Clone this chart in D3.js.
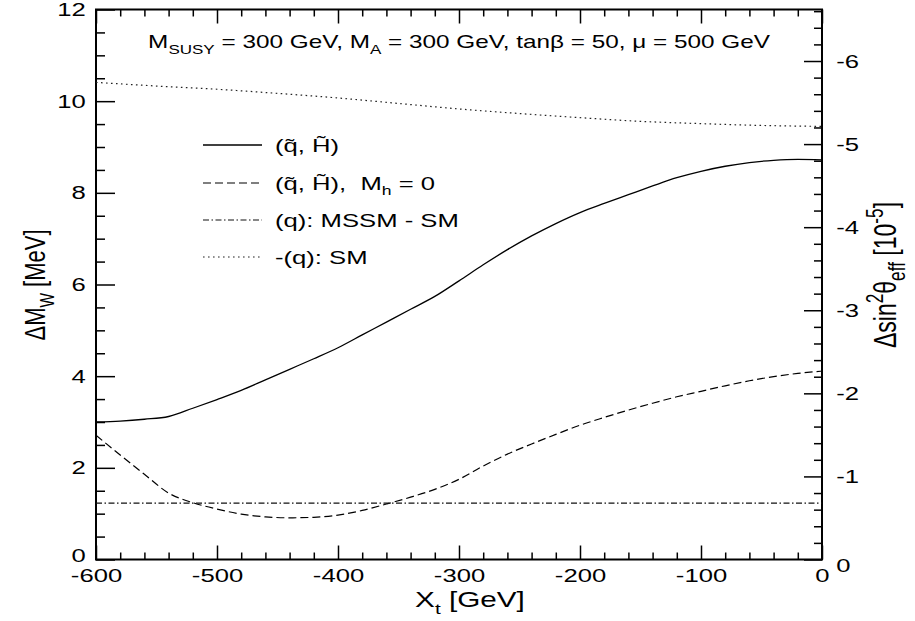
<!DOCTYPE html>
<html><head><meta charset="utf-8">
<script src="https://cdn.jsdelivr.net/npm/d3@7"></script>
<style>
body{margin:0;background:#fff}
svg text{font-family:"Liberation Sans",Arial,Helvetica,sans-serif;fill:#000;white-space:pre}
</style></head><body>
<svg id="c" width="915" height="621"></svg>
<script>
// ---- data ----
const xTicksMajor = [-600,-500,-400,-300,-200,-100,0];
const yTicksLeft  = [0,2,4,6,8,10,12];
const yTicksRight = [0,-1,-2,-3,-4,-5,-6];

const xGrid = [-600,-580,-560,-540,-520,-500,-480,-460,-440,-420,-400,-380,-360,-340,-320,-300,
               -280,-260,-240,-220,-200,-180,-160,-140,-120,-100,-80,-60,-40,-20,0];
const solidVals  = [3.00,3.02,3.06,3.12,3.30,3.49,3.69,3.92,4.15,4.38,4.62,4.90,5.18,5.46,5.74,6.08,
                    6.43,6.76,7.06,7.33,7.57,7.77,7.96,8.15,8.33,8.47,8.58,8.66,8.71,8.73,8.72];
const dashedVals = [2.71,2.28,1.86,1.45,1.24,1.10,0.99,0.93,0.91,0.92,0.97,1.07,1.21,1.36,1.53,1.75,
                    2.04,2.30,2.52,2.73,2.93,3.10,3.26,3.41,3.55,3.67,3.79,3.90,3.99,4.06,4.11];
const xDotted    = [-600,-550,-500,-450,-400,-350,-300,-250,-200,-150,-100,-50,0];
const dottedVals = [10.41,10.33,10.26,10.17,10.07,9.95,9.83,9.73,9.64,9.56,9.51,9.47,9.45];
const xDashDot   = [-600,0];
const dashDotVals= [1.23,1.23];

const legendLabels = ["(q\u0303, H\u0303)", "(q\u0303, H\u0303),  M", "(q): MSSM - SM", "-(q): SM"];

// ---- layout ----
const X0=96, X1=822, Y0=9.5, Y1=559.5, SX=1.35;
const svg = d3.select("#c");
const x  = d3.scaleLinear([-600,0],[X0,X1]);
const y  = d3.scaleLinear([0,12],[Y1,Y0]);
const yR = d3.scaleLinear([0,-6.62],[Y1,Y0]);

const xMinor = d3.range(-600,1,20).filter(v=>v%100!==0);
const yMinor = d3.range(0,12.01,0.5).filter(v=>Math.abs(v%2)>1e-9);
const yRMinor = d3.range(0,-6.61,-0.2).filter(v=>Math.abs(Math.round(v)-v)>1e-6);

function styleAxis(g, fs){
  g.select(".domain").remove();
  g.attr("font-size",fs).attr("font-family",null);
  g.selectAll("line").attr("stroke","#000").attr("stroke-width",1.5);
}
// bottom
svg.append("g").attr("transform",`translate(0,${Y1})`)
  .call(d3.axisBottom(x).tickValues(xTicksMajor).tickSize(-14).tickSizeOuter(0).tickPadding(9.5).tickFormat(d=>String(d)))
  .call(g=>{styleAxis(g,19); g.selectAll("text").attr("transform",`scale(${SX},1)`);});
svg.append("g").attr("transform",`translate(0,${Y1})`)
  .call(d3.axisBottom(x).tickValues(xMinor).tickSize(-7).tickSizeOuter(0).tickFormat(""))
  .call(g=>styleAxis(g,19));
// top
svg.append("g").attr("transform",`translate(0,${Y0})`)
  .call(d3.axisTop(x).tickValues(xTicksMajor).tickSize(-14).tickSizeOuter(0).tickFormat(""))
  .call(g=>styleAxis(g,19));
svg.append("g").attr("transform",`translate(0,${Y0})`)
  .call(d3.axisTop(x).tickValues(xMinor).tickSize(-7).tickSizeOuter(0).tickFormat(""))
  .call(g=>styleAxis(g,19));
// left
svg.append("g").attr("transform",`translate(${X0},0)`)
  .call(d3.axisLeft(y).tickValues(yTicksLeft).tickSize(-19).tickSizeOuter(0).tickPadding(7.5).tickFormat(d=>String(d)))
  .call(g=>{styleAxis(g,19); g.selectAll("text").attr("transform",`scale(${SX},1)`)
              .filter(d=>d===0).attr("dy","0.12em");});
svg.append("g").attr("transform",`translate(${X0},0)`)
  .call(d3.axisLeft(y).tickValues(yMinor).tickSize(-9).tickSizeOuter(0).tickFormat(""))
  .call(g=>styleAxis(g,19));
// right
svg.append("g").attr("transform",`translate(${X1},0)`)
  .call(d3.axisRight(yR).tickValues(yTicksRight).tickSize(-18).tickSizeOuter(0).tickPadding(10.5).tickFormat(d=>String(d)))
  .call(g=>{styleAxis(g,19); g.selectAll("text").attr("transform",`scale(${SX},1)`)
              .filter(d=>d===0).attr("dy","0.62em");});
svg.append("g").attr("transform",`translate(${X1},0)`)
  .call(d3.axisRight(yR).tickValues(yRMinor).tickSize(-8).tickSizeOuter(0).tickFormat(""))
  .call(g=>styleAxis(g,19));

// frame
svg.append("rect").attr("x",X0).attr("y",Y0).attr("width",X1-X0).attr("height",Y1-Y0)
  .attr("fill","none").attr("stroke","#000").attr("stroke-width",2);

// curves
const series = [
  {xs:xGrid,   vs:solidVals,   dash:null,            w:1.3, c:"#000"},
  {xs:xGrid,   vs:dashedVals,  dash:"8,4",           w:1.2, c:"#000"},
  {xs:xDashDot,vs:dashDotVals, dash:"6,2.5,1.5,2.5", w:1.1, c:"#111"},
  {xs:xDotted, vs:dottedVals,  dash:"1.6,3.4",       w:1.2, c:"#222"}
];
const line = d3.line().x(d=>x(d[0])).y(d=>y(d[1])).curve(d3.curveMonotoneX);
series.forEach(s=>{
  svg.append("path").datum(s.xs.map((xv,i)=>[xv,s.vs[i]]))
    .attr("d",line).attr("fill","none").attr("stroke",s.c)
    .attr("stroke-width",s.w).attr("stroke-dasharray",s.dash);
});

// legend
const legY = [145,183,220,257];
series.forEach((s,i)=>{
  svg.append("line").attr("x1",203).attr("x2",262).attr("y1",legY[i]).attr("y2",legY[i])
    .attr("stroke",s.c).attr("stroke-width",s.w).attr("stroke-dasharray",s.dash);
  const t = svg.append("text").attr("transform",`translate(275,${legY[i]}) scale(${SX},1)`)
    .attr("font-size",19).attr("dy","0.36em");
  t.append("tspan").text(legendLabels[i]);
  if(i===1){
    t.append("tspan").attr("font-size",13).attr("dy",5).text("h");
    t.append("tspan").attr("dy",-5).text(" = 0");
  }
});

// header
function rich(parent, parts, fs, subF){
  let shift=0;
  parts.forEach(p=>{
    const ts=parent.append("tspan").text(p.t);
    const target = p.sub? fs*0.3 : (p.sup? -fs*0.42 : 0);
    if(target!==shift){ ts.attr("dy",target-shift); shift=target; }
    if(p.sub||p.sup) ts.attr("font-size",fs*(subF||0.7));
  });
}
const hdr = svg.append("text").attr("transform",`translate(459,48) scale(1.28,1)`)
  .attr("text-anchor","middle").attr("font-size",19);
rich(hdr,[{t:"M"},{t:"SUSY",sub:1},{t:" = 300 GeV, M"},{t:"A",sub:1},
          {t:" = 300 GeV, tan\u03B2 = 50, \u03BC = 500 GeV"}],19);

// axis titles
const xt = svg.append("text").attr("transform",`translate(470,607) scale(${SX},1)`)
  .attr("text-anchor","middle").attr("font-size",22);
rich(xt,[{t:"X"},{t:"t",sub:1},{t:" [GeV]"}],22);

const yt = svg.append("text").attr("transform",`translate(45,285) scale(${SX},1) rotate(-90)`)
  .attr("text-anchor","middle").attr("font-size",22);
rich(yt,[{t:"\u0394M"},{t:"W",sub:1},{t:" [MeV]"}],22);

const yrt = svg.append("text").attr("transform",`translate(896,275) scale(${SX},1) rotate(-90)`)
  .attr("text-anchor","middle").attr("font-size",23);
rich(yrt,[{t:"\u0394sin"},{t:"2",sup:1},{t:"\u03B8"},{t:"eff",sub:1},{t:" [10"},{t:"-5",sup:1},{t:"]"}],23,0.75);
</script>
</body></html>
